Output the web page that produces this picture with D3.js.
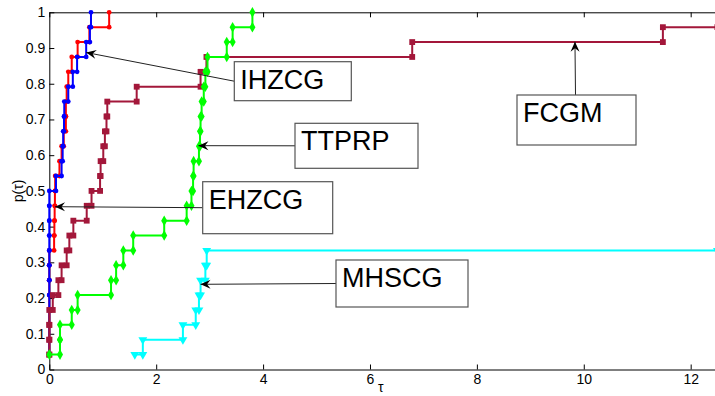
<!DOCTYPE html>
<meta charset="utf-8">
<style>
  body { margin: 0; background: #fff; }
  svg { display: block; font-family: "Liberation Sans", Arial, Helvetica, sans-serif; }
</style>
<body>
<div id="my_dataviz"></div>
<script src="https://d3js.org/d3.v7.min.js"></script>
<script>

// performance profile data: sorted tau values per solver, 24 problems
var nProblems = 24;

var ehzcgTau = [0, 0, 0, 0, 0, 0, 0, 0, 0.09, 0.095, 0.1, 0.105, 0.11, 0.19, 0.23, 0.27,
                0.31, 0.31, 0.325, 0.355, 0.42, 0.53, 0.75, 1.12];
var ihzcgTau = [0, 0, 0, 0, 0, 0, 0, 0, 0, 0, 0, 0, 0.125, 0.23, 0.25, 0.26,
                0.275, 0.28, 0.355, 0.44, 0.52, 0.69, 0.76, 0.78];
var fcgmTau  = [0, 0, 0, 0, 0.065, 0.17, 0.23, 0.325, 0.375, 0.45, 0.70, 0.79, 0.95, 0.96,
                1.01, 1.04, 1.07, 1.085, 1.635, 2.83, 2.94, 6.79, 11.48];
var ttprpTau = [0, 0.2, 0.2, 0.42, 0.53, 1.155, 1.25, 1.385, 1.57, 2.15, 2.57, 2.66, 2.69,
                2.70, 2.80, 2.82, 2.83, 2.85, 2.89, 2.92, 2.96, 3.32, 3.43, 3.80];
var mhscgTau = [1.60, 1.75, 2.50, 2.74, 2.80, 2.83, 2.92, 2.945];

var xTickLabels = [0, 2, 4, 6, 8, 10, 12];
var yTickLabels = [0, 0.1, 0.2, 0.3, 0.4, 0.5, 0.6, 0.7, 0.8, 0.9, 1];

// text annotations: label and arrow tip (tau, p)
var noteLabels = ["IHZCG", "TTPRP", "EHZCG", "MHSCG", "FCGM"];
var noteTips   = [[0.69, 0.8875], [2.79, 0.6266], [0.107, 0.4558], [2.83, 0.2385], [9.835, 0.9177]];

var xMax = 12.5;

var width = 715, height = 396;

var svg = d3.select("#my_dataviz")
  .append("svg")
    .attr("width", width)
    .attr("height", height);

var x = d3.scaleLinear().domain([0, xMax]).range([49.3, 717.4]);
var y = d3.scaleLinear().domain([0, 1]).range([369.5, 12.3]);

// axes (MATLAB style: inward ticks, box on top)
var xAxis = svg.append("g")
  .attr("transform", "translate(0," + y(0) + ")")
  .call(d3.axisBottom(x).tickValues(xTickLabels).tickSizeInner(-5).tickSizeOuter(0).tickPadding(5)
        .tickFormat(function(d) { return d; }));
var xTop = svg.append("g")
  .attr("transform", "translate(0," + y(1) + ")")
  .call(d3.axisTop(x).tickValues(xTickLabels).tickSizeInner(-5).tickSizeOuter(0).tickFormat(""));
var yAxis = svg.append("g")
  .attr("transform", "translate(" + x(0) + ",0)")
  .call(d3.axisLeft(y).tickValues(yTickLabels).tickSizeInner(-5).tickSizeOuter(0).tickPadding(4)
        .tickFormat(function(d) { return d; }));

svg.selectAll(".domain").attr("stroke", "#000").attr("stroke-width", 1);
svg.selectAll(".tick line").attr("stroke", "#000");
svg.selectAll(".tick text").attr("font-size", 14).attr("fill", "#000")
  .attr("font-family", "Liberation Sans, Arial, sans-serif");

svg.append("text")
  .attr("transform", "translate(23," + y(0.5) + ") rotate(-90)")
  .attr("text-anchor", "middle")
  .attr("font-size", 14)
  .text("p(\u03C4)");
svg.append("text")
  .attr("x", x(6.2))
  .attr("y", 392)
  .attr("text-anchor", "middle")
  .attr("font-size", 14)
  .text("\u03C4");

// stairs with a marker on every corner
function stairPoints(taus) {
  var pts = [];
  taus.forEach(function(t, i) {
    if (i > 0) pts.push([t, i / nProblems]);
    pts.push([t, (i + 1) / nProblems]);
  });
  var last = taus.length / nProblems;
  if (last < 1) pts.push([xMax, last]);
  return pts;
}

var series = [
  {tau: ehzcgTau, color: "#ff0000", symbol: d3.symbolCircle, size: 18, rot: 0},
  {tau: ihzcgTau, color: "#0000ff", symbol: d3.symbolCircle, size: 18, rot: 0},
  {tau: fcgmTau,  color: "#a3173a", symbol: d3.symbolSquare, size: 34, rot: 0},
  {tau: ttprpTau, color: "#00ff00", symbol: d3.symbolDiamond, size: 32, rot: 0},
  {tau: mhscgTau, color: "#00ffff", symbol: d3.symbolTriangle, size: 34, rot: 180}
];

var line = d3.line()
  .x(function(d) { return x(d[0]); })
  .y(function(d) { return y(d[1]); });

series.forEach(function(s) {
  var pts = stairPoints(s.tau);
  svg.append("path")
    .datum(pts)
    .attr("d", line)
    .attr("fill", "none")
    .attr("stroke", s.color)
    .attr("stroke-width", 2);
  svg.selectAll(null)
    .data(pts)
    .enter()
    .append("path")
      .attr("d", d3.symbol().type(s.symbol).size(s.size))
      .attr("transform", function(d) {
        return "translate(" + x(d[0]) + "," + y(d[1]) + ") rotate(" + s.rot + ")";
      })
      .attr("fill", s.color);
});

// annotation boxes and arrows
var noteBoxes = [
  {left: 234.3, top: 61.7, w: 117, h: 39, from: "left"},
  {left: 295, top: 123.3, w: 123, h: 45, from: "left"},
  {left: 202.7, top: 181.7, w: 130, h: 52, from: "left"},
  {left: 336, top: 260, w: 132, h: 47, from: "left"},
  {left: 517, top: 95, w: 119, h: 50, from: "top"}
];

noteLabels.forEach(function(label, i) {
  var b = noteBoxes[i];
  var tx = x(noteTips[i][0]), ty = y(noteTips[i][1]);
  var sx = b.from === "left" ? b.left : b.left + b.w / 2 - 1;
  var sy = b.from === "left" ? b.top + b.h / 2 : b.top;
  svg.append("line")
    .attr("x1", sx).attr("y1", sy).attr("x2", tx).attr("y2", ty)
    .attr("stroke", "#222").attr("stroke-width", 1);
  var ang = Math.atan2(ty - sy, tx - sx) * 180 / Math.PI;
  svg.append("path")
    .attr("d", "M0,0 L-10,-4.5 L-6.5,0 L-10,4.5 Z")
    .attr("transform", "translate(" + tx + "," + ty + ") rotate(" + ang + ")")
    .attr("fill", "#000");
  svg.append("rect")
    .attr("x", b.left).attr("y", b.top).attr("width", b.w).attr("height", b.h)
    .attr("fill", "#fff").attr("stroke", "#555").attr("stroke-width", 1.2);
  svg.append("text")
    .attr("x", b.left + 6).attr("y", b.top + 27)
    .attr("font-size", 27)
    .text(label);
});

</script>
</body>
